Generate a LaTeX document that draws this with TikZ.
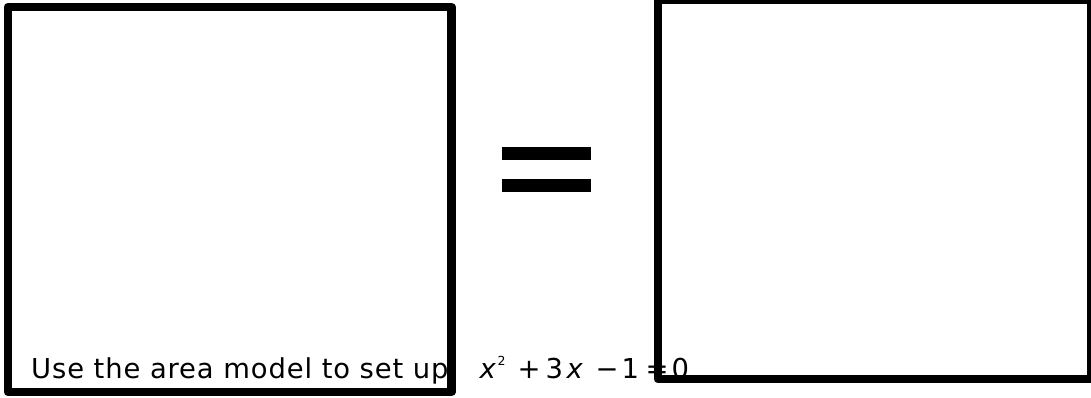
\documentclass[tikz,border=0pt]{standalone}
\usepackage{fontspec}
\setmainfont{DejaVu Sans}
\newcommand{\putat}[2]{\rlap{\hspace{#1}#2}}
\begin{document}
\begin{tikzpicture}[x=1pt,y=1pt,
  boxline/.style={draw=black,line width=8.5pt,line join=round},
  bar/.style={fill=black,draw=none},
  txt/.style={inner sep=0pt,anchor=base west,font=\fontsize{27.4}{30}\selectfont}]
\useasboundingbox (0,0) rectangle (1091,397);
\node[txt] (caption) at (31,19) {\addfontfeatures{LetterSpace=3.2}Use the area model to set up};
\node[txt] (eq) at (479,19) {\putat{0pt}{\itshape x}%
  \putat{18pt}{\raisebox{12.5pt}{\fontsize{12.5}{13}\selectfont 2}}%
  \putat{38pt}{+}\putat{66pt}{3}\putat{87pt}{\itshape x}%
  \putat{116pt}{−}\putat{142pt}{1}\putat{166pt}{=}\putat{192pt}{0}\hspace{210pt}};
\draw[boxline] (8,5) rectangle (451.5,390);
\draw[boxline] (658,18) rectangle (1091,397);
\path[bar] (502,237) rectangle (591,250);
\path[bar] (502,205) rectangle (591,218);
\end{tikzpicture}
\end{document}
